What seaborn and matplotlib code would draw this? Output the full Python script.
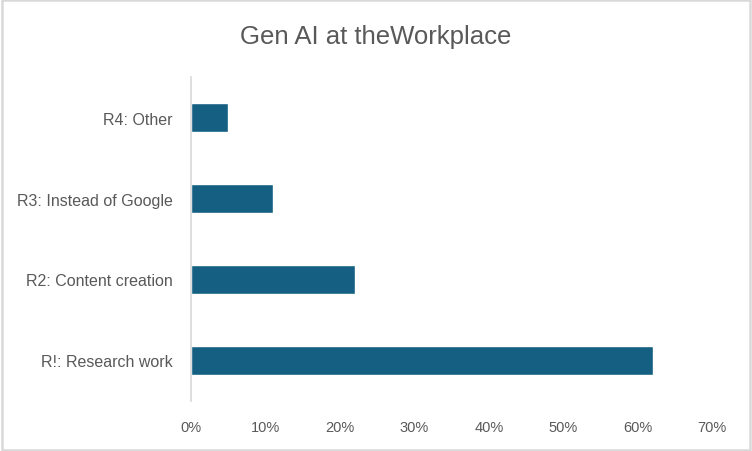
import pandas as pd
import seaborn as sns
import matplotlib.pyplot as plt
from matplotlib.patches import Rectangle
from matplotlib.ticker import PercentFormatter, MultipleLocator

# Chart data
categories = ['R4: Other', 'R3: Instead of Google', 'R2: Content creation', 'R!: Research work']
shares = [0.05, 0.11, 0.22, 0.62]

df = pd.DataFrame({'reason': categories, 'share': shares})

sns.set_theme(style='white')
plt.rcParams['font.family'] = ['Liberation Sans', 'DejaVu Sans']

text_color = '#595959'
fig = plt.figure(figsize=(7.52, 4.52), dpi=100)
ax = fig.add_axes([0.254, 0.111, 0.693, 0.716])

sns.barplot(data=df, x='share', y='reason', color='#156082', width=0.36,
            saturation=1, ax=ax)

ax.set_xlim(0, 0.70)
ax.xaxis.set_major_locator(MultipleLocator(0.10))
ax.xaxis.set_major_formatter(PercentFormatter(1.0, decimals=0))
ax.set_xlabel('')
ax.set_ylabel('')

for side in ['top', 'right', 'bottom']:
    ax.spines[side].set_visible(False)
ax.spines['left'].set_color('#d9d9d9')
ax.spines['left'].set_linewidth(1.2)

ax.tick_params(axis='both', length=0, colors=text_color)
ax.tick_params(axis='x', pad=14, labelsize=10.5)
ax.tick_params(axis='y', pad=13, labelsize=11.5)

fig.suptitle('Gen AI at theWorkplace', y=0.945, fontsize=18.5, color=text_color)

# light frame around chart area
fig.patches.append(Rectangle((0.002, 0.003), 0.996, 0.994, transform=fig.transFigure,
                             fill=False, edgecolor='#d9d9d9', linewidth=1.8))

fig.savefig('out.png', dpi=100)
